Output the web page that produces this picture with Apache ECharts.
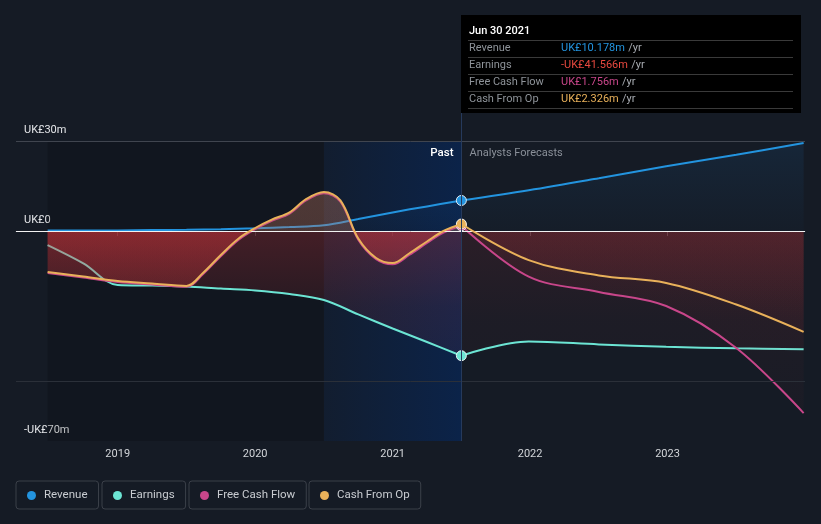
<!DOCTYPE html>
<html>
<head>
<meta charset="utf-8">
<script src="https://cdn.jsdelivr.net/npm/echarts@6/dist/echarts.min.js"></script>
<style>
html,body{margin:0;padding:0;background:#151b25;}
#chart{width:821px;height:524px;}
</style>
</head>
<body>
<div id="chart"></div>
<script>
// ---- data (years as decimal) ----
const pastX = [2018.49, 2018.75, 2019.0, 2019.25, 2019.5, 2019.75, 2020.0, 2020.25, 2020.5, 2020.75, 2021.0, 2021.25, 2021.5];
const cashPastX = [2018.49, 2018.75, 2019.0, 2019.25, 2019.5, 2019.62, 2019.75, 2019.88, 2020.0, 2020.12, 2020.25, 2020.37, 2020.5, 2020.62, 2020.75, 2020.88, 2021.0, 2021.12, 2021.25, 2021.37, 2021.5];
const forecastX = [2021.5, 2021.99, 2022.5, 2022.99, 2023.5, 2023.99];

const revenuePast = [0.2, 0.2, 0.2, 0.3, 0.4, 0.6, 0.9, 1.3, 1.9, 4.0, 6.2, 8.2, 10.178];
const revenueForecast = [10.178, 13.6, 17.6, 21.6, 25.4, 29.3];

const earningsPast = [-4.7, -10.8, -18.0, -18.2, -18.5, -19.2, -19.8, -21.0, -23.0, -27.8, -32.5, -37.0, -41.566];
const earningsForecast = [-41.566, -36.8, -37.8, -38.6, -39.1, -39.4];

const fcfPast = [-14.0, -15.5, -17.0, -17.8, -18.6, -14.4, -8.4, -2.9, 0.6, 3.4, 5.8, 10.2, 12.6, 9.8, -2.9, -9.4, -11.1, -8.0, -4.0, -0.5, 1.756];
const fcfForecast = [1.756, -15.2, -20.3, -25.0, -39.0, -60.7];

const cfoPast = [-13.7, -15.2, -16.7, -17.5, -18.3, -14.0, -8.0, -2.5, 1.0, 3.8, 6.2, 10.6, 13.0, 10.2, -2.5, -9.0, -10.7, -7.5, -3.5, 0.0, 2.326];
const cfoForecast = [2.326, -9.7, -14.8, -17.3, -24.5, -33.6];

const yearTicks = [2019, 2020, 2021, 2022, 2023];
const yLabelValues = [30, 0, -70];
const yLabelText = {'30': 'UK£30m', '0': 'UK£0', '-70': '-UK£70m'};

const names = ['Revenue', 'Earnings', 'Free Cash Flow', 'Cash From Op'];
const colors = ['#2394df', '#6ce5d4', '#c8468a', '#e9b15a'];
const pointDate = 'Jun 30 2021';
const pointX = 2021.5;
const pastStart = 2018.49;
const bandStart = 2020.5;

function zip(xs, ys) { return xs.map((x, i) => [x, ys[i]]); }

const chart = echarts.init(document.getElementById('chart'), null, {renderer: 'canvas'});
const FONT = 'Roboto, "Noto Sans", sans-serif';
const SMOOTH = 0.35;

function buildOption(fillPast, fillFc) {
  const seriesDefs = [
    [pastX, revenuePast, revenueForecast],
    [pastX, earningsPast, earningsForecast],
    [cashPastX, fcfPast, fcfForecast],
    [cashPastX, cfoPast, cfoForecast]
  ];
  const series = [];
  seriesDefs.forEach((d, i) => {
    const isRev = i === 0;
    const areaPast = isRev ? {color: {type: 'linear', x: 0, y: 0, x2: 0, y2: 1, colorStops: [{offset: 0, color: 'rgba(30,120,200,0.10)'}, {offset: 1, color: 'rgba(30,120,200,0.02)'}]}}
                           : {color: fillPast};
    const areaFc = isRev ? {color: {type: 'linear', x: 0, y: 0, x2: 0, y2: 1, colorStops: [{offset: 0, color: 'rgba(30,120,200,0.17)'}, {offset: 1, color: 'rgba(30,120,200,0.03)'}]}}
                         : {color: fillFc};
    const past = {
      name: names[i], type: 'line', data: zip(d[0], d[1]), smooth: SMOOTH,
      symbol: 'none', lineStyle: {color: colors[i], width: 2}, itemStyle: {color: colors[i]},
      areaStyle: areaPast, silent: true, z: 2 + i,
      markPoint: {
        symbol: 'circle', symbolSize: 10, silent: true, animation: false,
        itemStyle: {color: colors[i], borderColor: 'rgba(255,255,255,0.85)', borderWidth: 1},
        label: {show: false},
        data: [{coord: [pointX, d[1][d[1].length - 1]]}]
      }
    };
    const fc = {
      name: names[i], type: 'line', data: zip(forecastX, d[2]), smooth: SMOOTH,
      symbol: 'none', lineStyle: {color: colors[i], width: 2}, itemStyle: {color: colors[i]},
      areaStyle: areaFc, silent: true, z: 2 + i
    };
    if (isRev) {
      past.markArea = {
        silent: true,
        data: [
          [{xAxis: pastStart, itemStyle: {color: 'rgba(0,0,0,0.16)'}}, {xAxis: bandStart}],
          [{xAxis: bandStart, itemStyle: {color: {type: 'linear', x: 0, y: 0, x2: 1, y2: 0, colorStops: [{offset: 0, color: 'rgba(5,40,95,0.18)'}, {offset: 1, color: 'rgba(5,40,95,0.62)'}]}}}, {xAxis: pointX}]
        ]
      };
      past.markLine = {
        silent: true, symbol: 'none', animation: false, label: {show: false},
        data: [
          {yAxis: 30, lineStyle: {color: '#40454f', width: 1, type: 'solid'}},
          {yAxis: -50, lineStyle: {color: '#2b3039', width: 1, type: 'solid'}},
          {yAxis: 0, lineStyle: {color: '#f2f2f2', width: 1, type: 'solid'}}
        ]
      };
    }
    series.push(past, fc);
  });
  const legendLefts = [16, 102, 189, 309];
  const legends = names.map((n, i) => ({
    data: [n], left: legendLefts[i], top: 481, orient: 'horizontal',
    icon: 'circle', itemWidth: 9, itemHeight: 9,
    borderColor: '#3b4049', borderWidth: 1, borderRadius: 3,
    padding: [7, 11, 6, 11], selectedMode: false,
    textStyle: {color: '#c9ccd1', fontSize: 11.5, fontFamily: FONT, padding: [1, 0, 0, 3], lineHeight: 14}
  }));
  return {
    backgroundColor: '#151b25',
    animation: false,
    grid: {left: 16, right: 16, top: 141, bottom: 83, containLabel: false},
    legend: legends,
    xAxis: {
      type: 'value', min: 2018.26, max: 2024.0,
      axisLine: {show: true, lineStyle: {color: '#40454f'}},
      axisTick: {show: true, customValues: yearTicks, length: 5, lineStyle: {color: '#40454f'}},
      axisLabel: {customValues: yearTicks, color: '#d3d6da', fontSize: 11, fontFamily: FONT, margin: 8, formatter: v => String(Math.round(v))},
      splitLine: {show: false}
    },
    yAxis: {
      type: 'value', min: -70, max: 30,
      axisLine: {show: false}, axisTick: {show: false}, splitLine: {show: false},
      axisLabel: {
        customValues: yLabelValues, inside: true, margin: 8, verticalAlign: 'bottom',
        padding: [0, 0, 5, 0], color: '#e4e6e9', fontSize: 11, fontFamily: FONT,
        formatter: v => yLabelText[String(Math.round(v))]
      }
    },
    series: series
  };
}

function fmt(v) {
  const s = 'UK£' + Math.abs(v).toFixed(3) + 'm';
  return (v < 0 ? '-' : '') + s;
}

chart.setOption(buildOption('rgba(221,55,60,0.3)', 'rgba(221,55,60,0.15)'));

const yTop = chart.convertToPixel({gridIndex: 0}, [pointX, 30])[1];
const yZero = chart.convertToPixel({gridIndex: 0}, [pointX, 0])[1];
const yBot = chart.convertToPixel({gridIndex: 0}, [pointX, -70])[1];
const zOff = (yZero - yTop) / (yBot - yTop);
const px = Math.round(chart.convertToPixel({gridIndex: 0}, [pointX, 0])[0]) + 0.5;

const fillPast = {type: 'linear', x: 0, y: yTop, x2: 0, y2: yBot, global: true, colorStops: [
  {offset: 0, color: 'rgba(192,120,97,0.30)'}, {offset: zOff, color: 'rgba(192,120,97,0.26)'},
  {offset: zOff + 0.0001, color: 'rgba(221,55,60,0.36)'}, {offset: zOff + 0.25, color: 'rgba(221,55,60,0.15)'},
  {offset: 1, color: 'rgba(221,55,60,0.03)'}]};
const fillFc = {type: 'linear', x: 0, y: yTop, x2: 0, y2: yBot, global: true, colorStops: [
  {offset: 0, color: 'rgba(192,120,97,0.15)'}, {offset: zOff, color: 'rgba(192,120,97,0.15)'},
  {offset: zOff + 0.0001, color: 'rgba(221,55,60,0.16)'}, {offset: zOff + 0.3, color: 'rgba(221,55,60,0.06)'},
  {offset: 1, color: 'rgba(221,55,60,0.03)'}]};

const opt = buildOption(fillPast, fillFc);

const lastVals = [revenuePast, earningsPast, fcfPast, cfoPast].map(a => a[a.length - 1]);
const valColors = lastVals.map((v, i) => i === 1 && v < 0 ? '#e8493f' : colors[i]);
const boxLeft = px - 0.5;
const TF = '11px ' + FONT;
const gfx = [
  {type: 'line', z: 100, silent: true, shape: {x1: px, y1: 15, x2: px, y2: yBot}, style: {stroke: '#263a5c', lineWidth: 1}},
  {type: 'rect', z: 101, silent: true, shape: {x: boxLeft, y: 15, width: 340, height: 98}, style: {fill: '#000000'}}
];
const sepYs = [40, 57, 74, 91, 108];
sepYs.forEach(y => gfx.push({type: 'line', z: 102, silent: true, shape: {x1: boxLeft + 7, y1: y + 0.5, x2: boxLeft + 332, y2: y + 0.5}, style: {stroke: '#3a3a3a', lineWidth: 1}}));
gfx.push({type: 'text', z: 103, silent: true, x: boxLeft + 8, y: 31, style: {text: pointDate, fill: '#ffffff', font: '500 11px ' + FONT, verticalAlign: 'middle'}});
names.forEach((n, i) => {
  const cy = 48.5 + i * 17;
  gfx.push({type: 'text', z: 103, silent: true, x: boxLeft + 8, y: cy, style: {text: n, fill: '#8e9399', font: TF, verticalAlign: 'middle'}});
  gfx.push({type: 'text', z: 103, silent: true, x: boxLeft + 100, y: cy, style: {
    text: '{v|' + fmt(lastVals[i]) + '} {u|/yr}', verticalAlign: 'middle',
    rich: {v: {fill: valColors[i], fontSize: 11, fontFamily: FONT}, u: {fill: '#a8acb2', fontSize: 11, fontFamily: FONT}}
  }});
});
gfx.push({type: 'text', z: 103, silent: true, x: px - 8, y: 153, style: {text: 'Past', fill: '#ffffff', font: '500 11.5px ' + FONT, align: 'right', verticalAlign: 'middle'}});
gfx.push({type: 'text', z: 103, silent: true, x: px + 8, y: 153, style: {text: 'Analysts Forecasts', fill: '#8a9099', font: '11px ' + FONT, align: 'left', verticalAlign: 'middle'}});
opt.graphic = gfx;
chart.setOption(opt, true);
</script>
</body>
</html>
